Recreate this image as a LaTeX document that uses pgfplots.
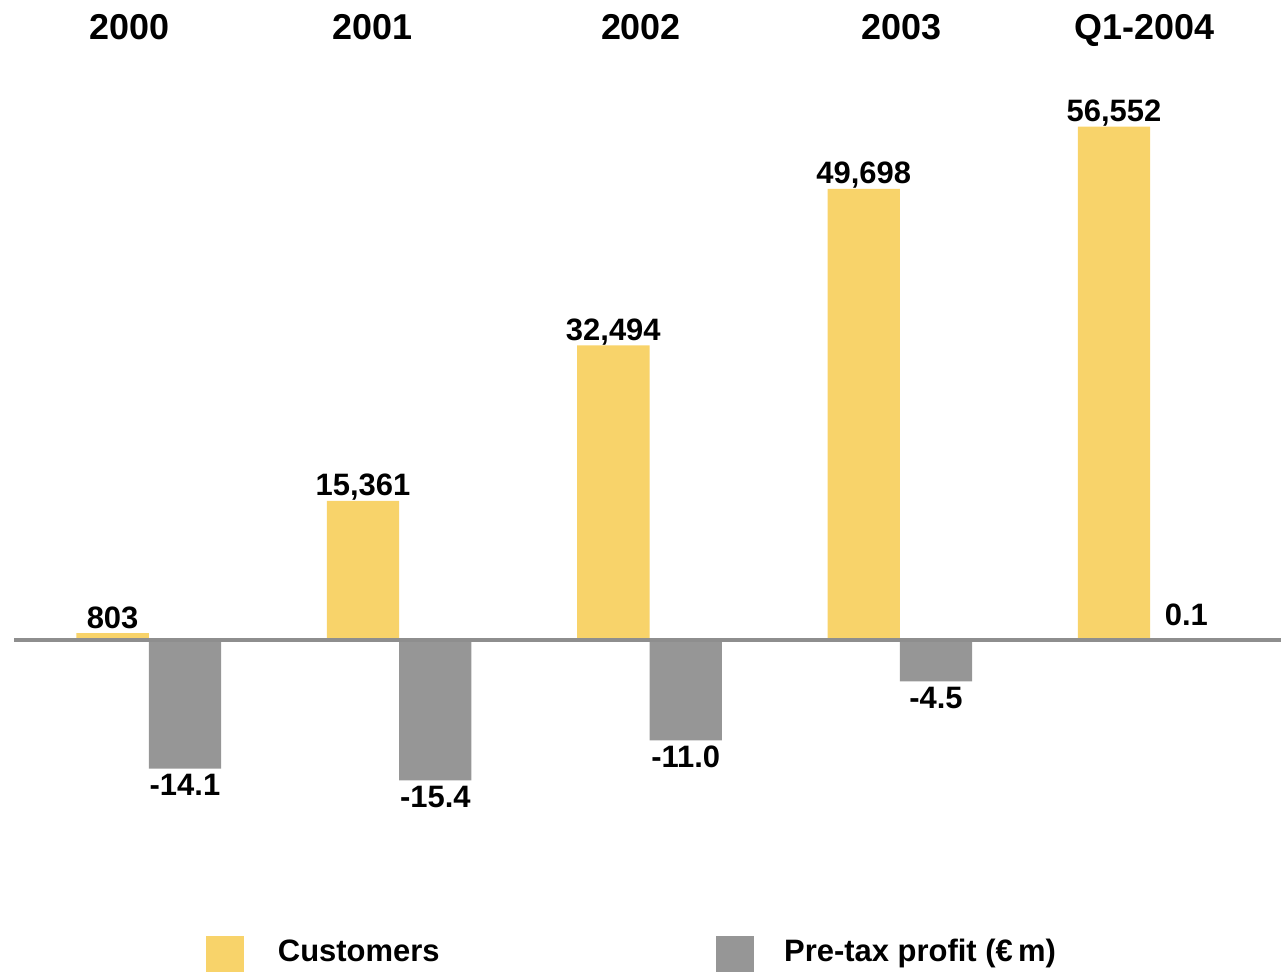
\documentclass[border=0pt]{standalone}
\usepackage{pgfplots}
\pgfplotsset{compat=1.18}
\usepackage{fontspec}
\setmainfont{Liberation Sans}
\definecolor{custyellow}{HTML}{F8D36A}
\definecolor{profgray}{HTML}{969696}
\definecolor{linegray}{HTML}{8E8E8E}
\pgfplotsset{
  base/.style={width=641.5pt,height=487pt,scale only axis,
    xmin=-0.5942,xmax=4.5224,hide axis,clip=false,ybar,bar width=0.289},
}
\tikzset{
  vlab/.style={font=\fontsize{15.5}{17}\selectfont\bfseries,inner sep=0pt},
  ylab/.style={font=\fontsize{18}{20}\selectfont\bfseries,inner sep=0pt,anchor=base},
}
\begin{document}
\begin{tikzpicture}
\begin{axis}[base,ymin=-36538,ymax=70495]
\path (rel axis cs:0,0) rectangle (rel axis cs:1,1);
\addplot[fill=custyellow,draw=none,bar shift=-0.1445,
  point meta=y,nodes near coords,
  nodes near coords style={vlab,anchor=base,yshift=2.5pt,
    /pgf/number format/.cd,fixed,precision=0,1000 sep={,},assume math mode=true}]
  coordinates {(0,803) (1,15361) (2,32494) (3,49698) (4,56552)};
% year labels
\node[ylab] at (axis cs:-0.0758,66099) {2000};
\node[ylab] at (axis cs:0.893,66099) {2001};
\node[ylab] at (axis cs:1.966,66099) {2002};
\node[ylab] at (axis cs:3.007,66099) {2003};
\node[ylab] at (axis cs:3.976,66099) {Q1-2004};
% legend
\fill[custyellow] (rel axis cs:0.16056,0) rectangle (rel axis cs:0.19018,0.03799);
\fill[profgray] (rel axis cs:0.55885,0) rectangle (rel axis cs:0.58846,0.03799);
\node[vlab,anchor=base west] at (rel axis cs:0.21668,0.01129) {Customers};
\node[vlab,anchor=base west] at (rel axis cs:0.61185,0.01129) {Pre-tax profit (€\,m)};
\end{axis}
\begin{axis}[base,ymin=-36.538,ymax=70.495]
\addplot[fill=profgray,draw=none,bar shift=0.1445,
  point meta=y,nodes near coords,
  nodes near coords style={vlab,anchor=north,yshift=-2.5pt,
    /pgf/number format/.cd,fixed,fixed zerofill,precision=1,assume math mode=true}]
  coordinates {(0,-14.1) (1,-15.4) (2,-11.0) (3,-4.5)};
\addplot[fill=profgray,draw=none,bar shift=0.1445,
  point meta=y,nodes near coords,
  nodes near coords style={vlab,anchor=base,yshift=7pt,
    /pgf/number format/.cd,fixed,fixed zerofill,precision=1,assume math mode=true}]
  coordinates {(4,0.1)};
\draw[linegray,line width=2pt] (axis cs:-0.538,0) -- (axis cs:4.5224,0);
\end{axis}
\end{tikzpicture}
\end{document}
